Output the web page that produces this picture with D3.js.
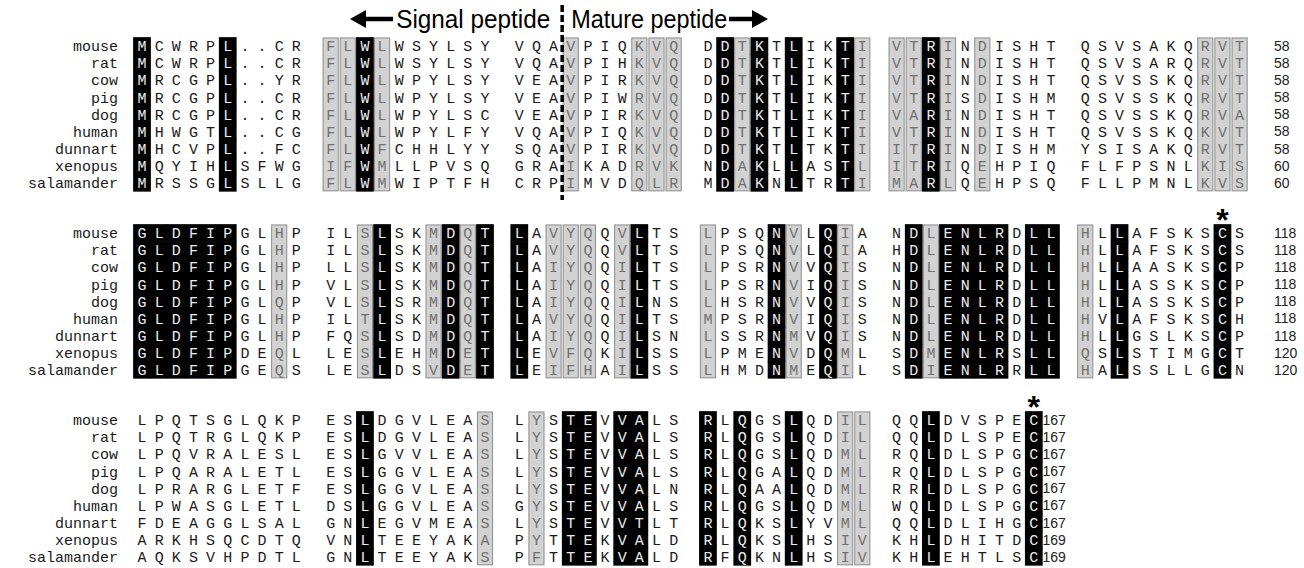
<!DOCTYPE html>
<html>
<head>
<meta charset="utf-8">
<script src="https://cdn.jsdelivr.net/npm/d3@7"></script>
<style>
  body { margin: 0; background: #fff; }
</style>
</head>
<body>
<div id="chart"></div>
<script>
// species names, one row each
const species = ["mouse", "rat", "cow", "pig", "dog", "human", "dunnart", "xenopus", "salamander"];

// block 1, residues 1-60 (space = gap between groups of ten)
const seq1 = [
    "MCWRPL..CR FLWLWSYLSY VQAVPIQKVQ DDTKTLIKTI VTRINDISHT QSVSAKQRVT",
    "MCWRPL..CR FLWLWSYLSY VQAVPIHKVQ DDTKTLIKTI VTRINDISHT QSVSARQRVT",
    "MRCGPL..YR FLWLWPYLSY VEAVPIRKVQ DDTKTLIKTI VTRINDISHT QSVSSKQRVT",
    "MRCGPL..CR FLWLWPYLSY VEAVPIWRVQ DDTKTLIKTI VTRISDISHM QSVSSKQRVT",
    "MRCGPL..CR FLWLWPYLSC VEAVPIRKVQ DDTKTLIKTI VARINDISHT QSVSSKQRVA",
    "MHWGTL..CG FLWLWPYLFY VQAVPIQKVQ DDTKTLIKTI VTRINDISHT QSVSSKQKVT",
    "MHCVPL..FC FLWFCHHLYY SQAVPIRKVQ DDTKTLTKTI ITRINDISHM YSISAKQRVT",
    "MQYIHLSFWG IFWMLLPVSQ GRAIKADRVK NDAKLLASTL ITRIQEHPIQ FLFPSNLKIS",
    "MRSSGLSLLG FLWMWIPTFH CRPIMVDQLR MDAKNLTRTI MARLQEHPSQ FLLPMNLKVS"
];
// k = black (identical), g = grey (similar), . = plain
const shade1 = [
    "k....k.... ggkg...... ...g...ggg .kgk.k..kg ggkg.g.... .......ggg",
    "k....k.... ggkg...... ...g...ggg .kgk.k..kg ggkg.g.... .......ggg",
    "k....k.... ggkg...... ...g...ggg .kgk.k..kg ggkg.g.... .......ggg",
    "k....k.... ggkg...... ...g...ggg .kgk.k..kg ggkg.g.... .......ggg",
    "k....k.... ggkg...... ...g...ggg .kgk.k..kg ggkg.g.... .......ggg",
    "k....k.... ggkg...... ...g...ggg .kgk.k..kg ggkg.g.... .......ggg",
    "k....k.... ggkg...... ...g...ggg .kgk.k..kg ggkg.g.... .......ggg",
    "k....k.... ggkg...... ...g...ggg .kgk.k..kg ggkg.g.... .......ggg",
    "k....k.... ggkg...... ...g...ggg .kgk.k..kg ggkg.g.... .......ggg"
];
const ends1 = [58, 58, 58, 58, 58, 58, 58, 60, 60];

// block 2, residues 61-120
const seq2 = [
    "GLDFIPGLHP ILSLSKMDQT LAVYQQVLTS LPSQNVLQIA NDLENLRDLL HLLAFSKSCS",
    "GLDFIPGLHP ILSLSKMDQT LAVYQQVLTS LPSQNVLQIA HDLENLRDLL HLLAFSKSCS",
    "GLDFIPGLHP LLSLSKMDQT LAIYQQILTS LPSRNVVQIS NDLENLRDLL HLLAASKSCP",
    "GLDFIPGLHP VLSLSKMDQT LAIYQQILTS LPSRNVIQIS NDLENLRDLL HLLASSKSCP",
    "GLDFIPGLQP VLSLSRMDQT LAIYQQILNS LHSRNVVQIS NDLENLRDLL HLLASSKSCP",
    "GLDFIPGLHP ILTLSKMDQT LAVYQQILTS MPSRNVIQIS NDLENLRDLL HVLAFSKSCH",
    "GLDFIPGLHP FQSLSDMDQT LAIYQQILSN LSSRNMVQIS NDLENLRDLL HLLGSLKSCP",
    "GLDFIPDEQL LESLEHMDET LEVFQKILSS LPMENVDQML SDMENLRSLL QSLSTIMGCT",
    "GLDFIPGEQS LESLDSVDET LEIFHAILSS LHMDNMEQIL SDIENLRRLL HALSSLLGCN"
];
const shade2 = [
    "kkkkkk..g. ..gk..gkgk k.ggg.gk.. g...kg.kg. .kgkkkk.kk g.k.....k.",
    "kkkkkk..g. ..gk..gkgk k.ggg.gk.. g...kg.kg. .kgkkkk.kk g.k.....k.",
    "kkkkkk..g. ..gk..gkgk k.ggg.gk.. g...kg.kg. .kgkkkk.kk g.k.....k.",
    "kkkkkk..g. ..gk..gkgk k.ggg.gk.. g...kg.kg. .kgkkkk.kk g.k.....k.",
    "kkkkkk..g. ..gk..gkgk k.ggg.gk.. g...kg.kg. .kgkkkk.kk g.k.....k.",
    "kkkkkk..g. ..gk..gkgk k.ggg.gk.. g...kg.kg. .kgkkkk.kk g.k.....k.",
    "kkkkkk..g. ..gk..gkgk k.ggg.gk.. g...kg.kg. .kgkkkk.kk g.k.....k.",
    "kkkkkk..g. ..gk..gkgk k.ggg.gk.. g...kg.kg. .kgkkkk.kk g.k.....k.",
    "kkkkkk..g. ..gk..gkgk k.ggg.gk.. g...kg.kg. .kgkkkk.kk g.k.....k."
];
const ends2 = [118, 118, 118, 118, 118, 118, 118, 120, 120];

// block 3, residues 121-end
const seq3 = [
    "LPQTSGLQKP ESLDGVLEAS LYSTEVVALS RLQGSLQDIL QQLDVSPEC",
    "LPQTRGLQKP ESLDGVLEAS LYSTEVVALS RLQGSLQDIL QQLDLSPEC",
    "LPQVRALESL ESLGVVLEAS LYSTEVVALS RLQGSLQDML RQLDLSPGC",
    "LPQARALETL ESLGGVLEAS LYSTEVVALS RLQGALQDML RQLDLSPGC",
    "LPRARGLETF ESLGGVLEAS LYSTEVVALN RLQAALQDML RRLDLSPGC",
    "LPWASGLETL DSLGGVLEAS GYSTEVVALS RLQGSLQDML WQLDLSPGC",
    "FDEAGGLSAL GNLEGVMEAS LYSTEVVTLT RLQKSLYVML QQLDLIHGC",
    "ARKHSQCDTQ VNLTEEYAKA PYTTEKVALD RLQKSLHSIV KHLDHITDC",
    "AQKSVHPDTL GNLTEEYAKS PFTTEKVALD RFQKNLHSIV KHLEHTLSC"
];
const shade3 = [
    ".......... ..k......g .g.kk.kk.. k.k..k..gg ..k.....k",
    ".......... ..k......g .g.kk.kk.. k.k..k..gg ..k.....k",
    ".......... ..k......g .g.kk.kk.. k.k..k..gg ..k.....k",
    ".......... ..k......g .g.kk.kk.. k.k..k..gg ..k.....k",
    ".......... ..k......g .g.kk.kk.. k.k..k..gg ..k.....k",
    ".......... ..k......g .g.kk.kk.. k.k..k..gg ..k.....k",
    ".......... ..k......g .g.kk.kk.. k.k..k..gg ..k.....k",
    ".......... ..k......g .g.kk.kk.. k.k..k..gg ..k.....k",
    ".......... ..k......g .g.kk.kk.. k.k..k..gg ..k.....k"
];
const ends3 = [167, 167, 167, 167, 167, 167, 167, 169, 169];

// conserved cysteines marked with a star: [block, string index]
const starMarks = [[1, 63], [2, 52]];

const width = 1304;
const height = 568;
const cellW = 17.15;
const rowH = 17.1;
const blockTops = [46, 233, 420];
const mono = "'Liberation Mono', 'Courier New', monospace";
const sans = "'Liberation Sans', Arial, sans-serif";

const svg = d3.select("#chart")
    .append("svg")
    .attr("width", width)
    .attr("height", height)
    .style("display", "block");

const xScale = d3.scaleLinear()
    .domain([0, 64])
    .range([142, 142 + 64 * cellW]);

const yScale = d3.scaleLinear()
    .domain([0, 8])
    .range([0, 8 * rowH]);

function drawBlock(seqs, shades, ends, top, tightNumber) {
    const g = svg.append("g").attr("transform", `translate(0,${top})`);

    const cells = [];
    seqs.forEach(function(s, r) {
        for (let i = 0; i < s.length; i++) {
            if (s[i] === " ") continue;
            cells.push({r: r, i: i, ch: s[i], sh: shades[r][i]});
        }
    });

    // grey boxes: one box per vertical run in a column
    const runs = [];
    const nCols = d3.max(seqs, s => s.length);
    for (let i = 0; i < nCols; i++) {
        let start = -1;
        for (let r = 0; r <= seqs.length; r++) {
            const isG = r < seqs.length && shades[r][i] === "g";
            if (isG && start < 0) start = r;
            if (!isG && start >= 0) { runs.push({i: i, r0: start, r1: r - 1}); start = -1; }
        }
    }
    g.selectAll("rect.grey")
        .data(runs)
        .enter()
        .append("rect")
            .attr("class", "grey")
            .attr("x", d => xScale(d.i) - cellW / 2 + 1)
            .attr("y", d => yScale(d.r0) - rowH / 2 + 0.5)
            .attr("width", cellW - 2)
            .attr("height", d => yScale(d.r1) - yScale(d.r0) + rowH - 1)
            .attr("fill", "#d2d2d2")
            .attr("stroke", "#8c8c8c")
            .attr("stroke-width", 1);

    g.selectAll("rect.black")
        .data(cells.filter(d => d.sh === "k"))
        .enter()
        .append("rect")
            .attr("class", "black")
            .attr("x", d => xScale(d.i) - cellW / 2 - 0.3)
            .attr("y", d => yScale(d.r) - rowH / 2 - 0.3)
            .attr("width", cellW + 0.6)
            .attr("height", rowH + 0.6)
            .attr("fill", "#000");

    g.selectAll("text.res")
        .data(cells)
        .enter()
        .append("text")
            .attr("class", "res")
            .attr("x", d => xScale(d.i))
            .attr("y", d => yScale(d.r))
            .attr("dy", "0.35em")
            .style("text-anchor", "middle")
            .style("font-family", mono)
            .style("font-size", "15px")
            .attr("fill", d => d.sh === "k" ? "#ececec" : d.sh === "g" ? "#707070" : "#1a1a1a")
            .text(d => d.ch);

    g.selectAll("text.name")
        .data(species)
        .enter()
        .append("text")
            .attr("class", "name")
            .attr("x", 118)
            .attr("y", (d, r) => yScale(r))
            .attr("dy", "0.35em")
            .style("text-anchor", "end")
            .style("font-family", mono)
            .style("font-size", "15px")
            .attr("fill", "#1a1a1a")
            .text(d => d);

    g.selectAll("text.num")
        .data(ends)
        .enter()
        .append("text")
            .attr("class", "num")
            .attr("x", (d, r) => tightNumber
                ? xScale(seqs[r].length - 1) + cellW / 2
                : xScale(seqs[r].length - 1) + 2 * cellW)
            .attr("y", (d, r) => yScale(r))
            .attr("dy", "0.35em")
            .style("font-family", sans)
            .style("font-size", "14px")
            .attr("fill", "#222")
            .text(d => d);
}

drawBlock(seq1, shade1, ends1, blockTops[0], false);
drawBlock(seq2, shade2, ends2, blockTops[1], false);
drawBlock(seq3, shade3, ends3, blockTops[2], true);

// stars over the conserved cysteines
svg.selectAll("text.star")
    .data(starMarks)
    .enter()
    .append("text")
        .attr("class", "star")
        .attr("x", d => xScale(d[1]))
        .attr("y", d => blockTops[d[0]] - 2)
        .style("text-anchor", "middle")
        .style("font-family", sans)
        .style("font-weight", "bold")
        .style("font-size", "32px")
        .text("*");

// signal / mature peptide header
const cut = xScale(24.5);
svg.append("line")
    .attr("x1", cut).attr("x2", cut)
    .attr("y1", 5).attr("y2", 200)
    .attr("stroke", "#000")
    .attr("stroke-width", 3.5)
    .attr("stroke-dasharray", "7,3");

svg.append("text")
    .attr("x", cut - 166)
    .attr("y", 28)
    .attr("textLength", 154)
    .attr("lengthAdjust", "spacingAndGlyphs")
    .style("font-family", sans)
    .style("font-size", "25px")
    .text("Signal peptide");

svg.append("text")
    .attr("x", cut + 9)
    .attr("y", 28)
    .attr("textLength", 156)
    .attr("lengthAdjust", "spacingAndGlyphs")
    .style("font-family", sans)
    .style("font-size", "25px")
    .text("Mature peptide");

const arrow = d3.line();
svg.append("path")
    .attr("d", arrow([[393, 19], [362, 19]]))
    .attr("stroke", "#000")
    .attr("stroke-width", 4.5);
svg.append("path")
    .attr("d", arrow([[350, 19], [366, 10], [366, 28]]) + "Z")
    .attr("fill", "#000");
svg.append("path")
    .attr("d", arrow([[729, 19], [756, 19]]))
    .attr("stroke", "#000")
    .attr("stroke-width", 4.5);
svg.append("path")
    .attr("d", arrow([[768, 19], [752, 10], [752, 28]]) + "Z")
    .attr("fill", "#000");
</script>
</body>
</html>
